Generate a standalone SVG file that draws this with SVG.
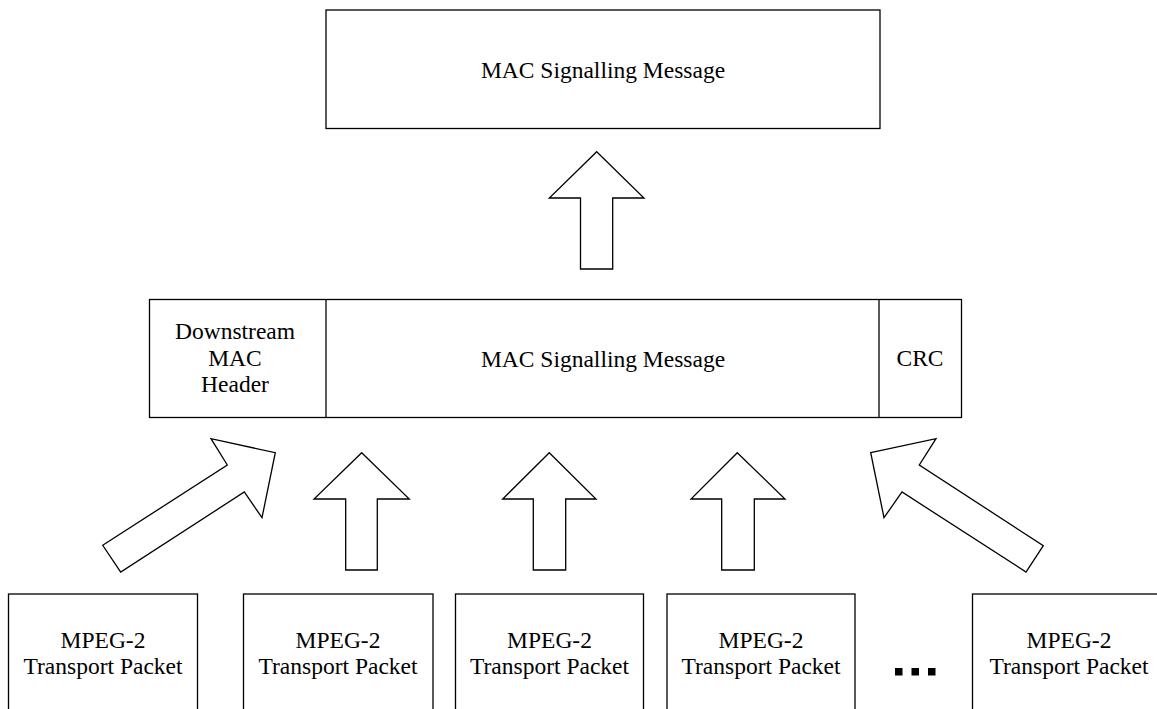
<svg xmlns="http://www.w3.org/2000/svg" width="1157" height="709" viewBox="0 0 1157 709">
<style>
.box{fill:#fff;stroke:#000;stroke-width:1.3}
.arrow{fill:#fff;stroke:#000;stroke-width:1.3;stroke-linejoin:miter}
.t{font-family:"Liberation Serif","Times New Roman",serif;font-size:23.5px;fill:#000;text-anchor:middle}
.dot{fill:#000}
</style>
<rect width="1157" height="709" fill="#fff"/>
<g id="top-message">
<rect class="box" x="326" y="10" width="554" height="118.5"/>
<text class="t" x="603" y="78">MAC Signalling Message</text>
</g>
<g id="mac-frame">
<rect class="box" x="149.5" y="299.5" width="812" height="118"/>
<line class="box" x1="326" y1="299.5" x2="326" y2="417.5"/>
<line class="box" x1="879" y1="299.5" x2="879" y2="417.5"/>
</g>
<g id="mac-header">
<text class="t" x="235" y="339">Downstream</text>
<text class="t" x="235" y="365.5">MAC</text>
<text class="t" x="235" y="392">Header</text>
</g>
<g id="mac-message">
<text class="t" x="603" y="367">MAC Signalling Message</text>
</g>
<g id="crc">
<text class="t" x="920" y="366">CRC</text>
</g>
<g id="packet-1">
<rect class="box" x="8.5" y="594" width="189" height="130"/>
<text class="t" x="103" y="648">MPEG-2</text>
<text class="t" x="103" y="674">Transport Packet</text>
</g>
<g id="packet-2">
<rect class="box" x="243.5" y="594" width="189.5" height="130"/>
<text class="t" x="338" y="648">MPEG-2</text>
<text class="t" x="338" y="674">Transport Packet</text>
</g>
<g id="packet-3">
<rect class="box" x="455.5" y="594" width="188" height="130"/>
<text class="t" x="549.5" y="648">MPEG-2</text>
<text class="t" x="549.5" y="674">Transport Packet</text>
</g>
<g id="packet-4">
<rect class="box" x="667" y="594" width="188" height="130"/>
<text class="t" x="761" y="648">MPEG-2</text>
<text class="t" x="761" y="674">Transport Packet</text>
</g>
<g id="ellipsis">
<rect class="dot" x="895" y="668" width="7.5" height="7.5"/>
<rect class="dot" x="911.5" y="668" width="7.5" height="7.5"/>
<rect class="dot" x="928" y="668" width="7.5" height="7.5"/>
</g>
<g id="packet-5">
<rect class="box" x="972.5" y="594" width="190" height="130"/>
<text class="t" x="1069" y="648">MPEG-2</text>
<text class="t" x="1069" y="674">Transport Packet</text>
</g>
<g id="connectors">
<polygon class="arrow" points="596.7,151.7 644,198 612.7,198 612.7,269 580.5,269 580.5,198 549.3,198"/>
<polygon class="arrow" points="102.7,545.3 227.3,465 211,438.7 275.3,452.7 262,517.7 244.3,492 120.7,572"/>
<polygon class="arrow" points="361.7,452.7 409.3,499 377.3,499 377.3,570 345.7,570 345.7,499 314,499"/>
<polygon class="arrow" points="549.3,452.7 596,499 565.7,499 565.7,570 533.3,570 533.3,499 502.7,499"/>
<polygon class="arrow" points="737.3,452.7 785,499 754.3,499 754.3,570 721.7,570 721.7,499 691,499"/>
<polygon class="arrow" points="870.7,452.7 936,438.7 919.3,465 1043.3,545.7 1026,572 902,492 884,517.7"/>
</g>
</svg>
